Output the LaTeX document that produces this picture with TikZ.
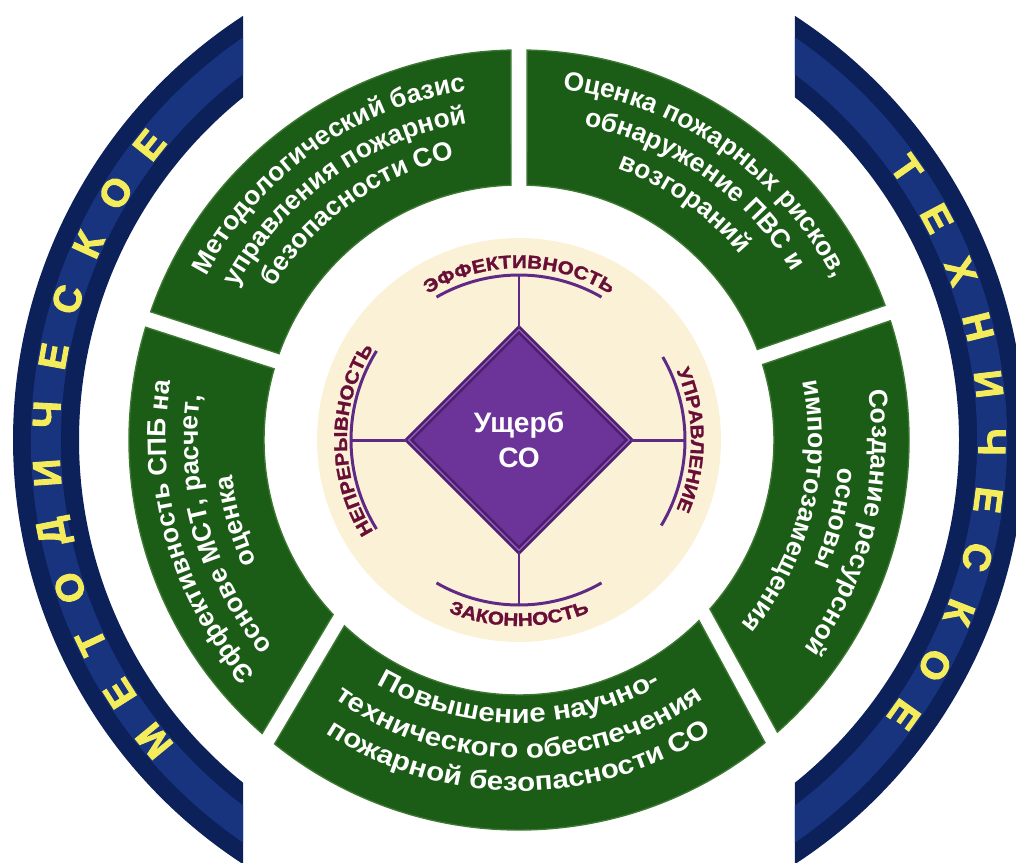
\documentclass[tikz,border=0pt]{standalone}
\usepackage{fontspec}
\setmainfont{Liberation Sans}
\newfontfamily\segfont{Liberation Sans}
\newfontfamily\widefont[FakeStretch=1.12]{Liberation Sans}
\newfontfamily\tagfont[FakeStretch=1.12, FakeBold=1.5]{Liberation Sans}
\newfontfamily\bandfont[FakeBold=2.5]{Liberation Sans}
\usetikzlibrary{shapes.geometric,decorations.text}

\definecolor{ringgreen}{RGB}{27,92,22}
\definecolor{ringedge}{RGB}{60,120,50}
\definecolor{bandblue}{RGB}{12,32,90}
\definecolor{bandmid}{RGB}{30,60,140}
\definecolor{letteryellow}{RGB}{244,236,90}
\definecolor{creamfill}{RGB}{251,241,214}
\definecolor{spokepurple}{RGB}{95,42,133}
\definecolor{diamondpurple}{RGB}{108,52,152}
\definecolor{diamondedge}{RGB}{78,30,112}
\definecolor{diamondlight}{RGB}{140,95,180}
\definecolor{tagred}{RGB}{105,15,55}

\tikzset{
  segment/.style={fill=ringgreen, draw=ringedge, line width=0.8pt},
  band/.style={fill=bandblue},
  bandglow/.style={draw=bandmid, line width=0.6cm, opacity=0.75},
  spoke/.style={draw=spokepurple, line width=1.7pt},
  bandletter/.style={text=letteryellow, font=\bandfont\bfseries\fontsize{22}{22}\selectfont, inner sep=0pt},
  segtext/.style={decorate, decoration={text along path, text align=center, text color=white,
    text={|\segfont\bfseries\fontsize{15}{18}\selectfont|#1}}},
  bottomtext/.style={decorate, decoration={text along path, text align=center, text color=white,
    text={|\widefont\bfseries\fontsize{15}{18}\selectfont|#1}}},
  tagtext/.style={decorate, decoration={text along path, text align=center, text color=tagred,
    text={|\tagfont\bfseries\fontsize{10.5}{11}\selectfont|#1}}}
}

\begin{document}
\begin{tikzpicture}[x=0.02cm, y=0.02cm]
  \useasboundingbox (-519,-423) rectangle (497,440);

  % outer blue bands, lighter along the middle
  \begin{scope}
    \clip (123.05:506) arc[start angle=123.05, end angle=236.95, radius=506]
      -- (231.15:440) arc[start angle=231.15, end angle=128.85, radius=440] -- cycle;
    \fill [band] (-519,-423) rectangle (0,440);
    \draw [bandglow] (115:473) arc[start angle=115, end angle=245, radius=473];
  \end{scope}
  \begin{scope}
    \clip (56.95:506) arc[start angle=56.95, end angle=-56.95, radius=506]
      -- (-51.15:440) arc[start angle=-51.15, end angle=51.15, radius=440] -- cycle;
    \fill [band] (0,-423) rectangle (520,440);
    \draw [bandglow] (65:473) arc[start angle=65, end angle=-65, radius=473];
  \end{scope}

  \foreach \l [count=\i from 0] in {М,Е,Т,О,Д,И,Ч,Е,С,К,О,Е}
    \node (m\i) [bandletter, rotate={129.5-\i*7.1}] at ({219.5-\i*7.1}:473) {\l};
  \foreach \l [count=\i from 0] in {Т,Е,Х,Н,И,Ч,Е,С,К,О,Е}
    \node (t\i) [bandletter, rotate={-55-\i*7.05}] at ({35-\i*7.05}:473) {\l};

  % green ring: outer start/end, inner start/end angle of each sector
  \foreach \os/\oe/\is/\ie in {91.2/160.8/91.8/160.2, 20.2/88.8/20.8/88.2,
      163.2/228.8/163.8/223.2, 231.2/309.1/226.8/314.9, 311.5/377.8/318.5/377.2}
    \filldraw [segment] (\os:390) arc[start angle=\os, end angle=\oe, radius=390]
      -- (\ie:255) arc[start angle=\ie, end angle=\is, radius=255] -- cycle;

  \path [segtext={Методологический базис}] (170.5:353) arc[start angle=170.5, end angle=80.5, radius=353];
  \path [segtext={управления пожарной}] (170.5:321) arc[start angle=170.5, end angle=80.5, radius=321];
  \path [segtext={безопасности СО}] (170.5:289) arc[start angle=170.5, end angle=80.5, radius=289];

  \path [segtext={Оценка пожарных рисков,}] (100:353) arc[start angle=100, end angle=10, radius=353];
  \path [segtext={обнаружение ПВС и}] (100:321) arc[start angle=100, end angle=10, radius=321];
  \path [segtext={возгораний}] (100:289) arc[start angle=100, end angle=10, radius=289];

  \path [segtext={Эффективность СПБ на}] (241:353) arc[start angle=241, end angle=151, radius=353];
  \path [segtext={основе МСТ, расчет,}] (241:321) arc[start angle=241, end angle=151, radius=321];
  \path [segtext={оценка}] (241:289) arc[start angle=241, end angle=151, radius=289];

  \path [segtext={Создание ресурсной}] (31:353) arc[start angle=31, end angle=-59, radius=353];
  \path [segtext={основы}] (31:321) arc[start angle=31, end angle=-59, radius=321];
  \path [segtext={импортозамещения}] (31:289) arc[start angle=31, end angle=-59, radius=289];

  \path [bottomtext={Повышение научно-}] (222:283) arc[start angle=222, end angle=318, radius=283];
  \path [bottomtext={технического обеспечения}] (222:318) arc[start angle=222, end angle=318, radius=318];
  \path [bottomtext={пожарной безопасности СО}] (222:351) arc[start angle=222, end angle=318, radius=351];

  % inner disc
  \fill [creamfill] (0,0) circle[radius=202];

  \coordinate (effArc) at (90:165);
  \coordinate (lawArc) at (270:165);
  \coordinate (contArc) at (180:168);
  \coordinate (mgmtArc) at (0:166);

  \draw [spoke] (60:165) arc[start angle=60, end angle=120, radius=165];
  \draw [spoke] (240:165) arc[start angle=240, end angle=300, radius=165];
  \draw [spoke] (148:168) arc[start angle=148, end angle=212, radius=168];
  \draw [spoke] (30:166) arc[start angle=30, end angle=-31, radius=166];

  \node (damage) [diamond, aspect=1, minimum size=4.44cm, inner sep=0pt,
    fill=diamondpurple, draw=diamondedge, line width=1.5pt,
    double=diamondlight, double distance=0.8pt,
    text=white, font=\bfseries\fontsize{16}{20}\selectfont, align=center] at (0,0) {Ущерб\\СО};

  \draw [spoke] (damage.north) -- (effArc);
  \draw [spoke] (damage.south) -- (lawArc);
  \draw [spoke] (damage.west) -- (contArc);
  \draw [spoke] (damage.east) -- (mgmtArc);

  \path [tagtext={ЭФФЕКТИВНОСТЬ}] (130:172) arc[start angle=130, end angle=50, radius=172];
  \path [tagtext={НЕПРЕРЫВНОСТЬ}] (220:172) arc[start angle=220, end angle=140, radius=172];
  \path [tagtext={УПРАВЛЕНИЕ}] (40:172) arc[start angle=40, end angle=-40, radius=172];
  \path [tagtext={ЗАКОННОСТЬ}] (230:186) arc[start angle=230, end angle=310, radius=186];
\end{tikzpicture}
\end{document}
